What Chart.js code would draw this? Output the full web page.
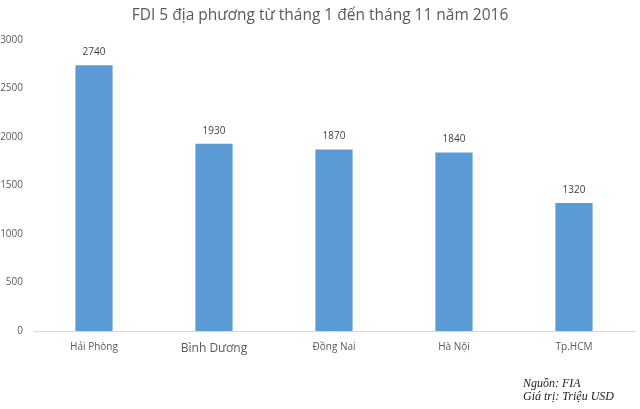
<!DOCTYPE html>
<html>
<head>
<meta charset="utf-8">
<script src="https://cdn.jsdelivr.net/npm/chart.js@4.4.0/dist/chart.umd.min.js"></script>
<style>
  html, body { margin: 0; padding: 0; background: #fff; }
  #wrap { width: 640px; height: 409px; position: relative; }
</style>
</head>
<body>
<div id="wrap"><canvas id="fdi-chart"></canvas></div>
<script>
const chartTitle = 'FDI 5 địa phương từ tháng 1 đến tháng 11 năm 2016';
const provinces = ['Hải Phòng', 'Bình Dương', 'Đồng Nai', 'Hà Nội', 'Tp.HCM'];
const fdiValues = [2740, 1930, 1870, 1840, 1320];
const yTicks = [0, 500, 1000, 1500, 2000, 2500, 3000];
const notes = ['Nguồn: FIA', 'Giá trị: Triệu USD'];

const textColor = '#595959';

// labels above bars + title + source notes
const extraText = {
    id: 'extraText',
    afterDatasetsDraw(chart) {
        const ctx = chart.ctx;
        const meta = chart.getDatasetMeta(0);
        ctx.save();
        ctx.fillStyle = '#404040';
        ctx.font = '10px "Open Sans"';
        ctx.textAlign = 'center';
        ctx.textBaseline = 'middle';
        meta.data.forEach((bar, i) => {
            ctx.fillText(String(fdiValues[i]), bar.x, bar.y - 13);
        });

        ctx.fillStyle = textColor;
        ctx.font = '15.5px "Open Sans"';
        ctx.fillText(chartTitle, 320, 16);

        ctx.fillStyle = '#222';
        ctx.font = 'italic 12px "Liberation Serif"';
        ctx.textAlign = 'left';
        ctx.textBaseline = 'alphabetic';
        ctx.fillText(notes[0], 523, 387);
        ctx.fillText(notes[1], 523, 400);
        ctx.restore();
    }
};

const ctx = document.getElementById('fdi-chart').getContext('2d');
new Chart(ctx, {
    type: 'bar',
    data: {
        labels: provinces,
        datasets: [{
            data: fdiValues,
            backgroundColor: '#5B9BD5',
            borderWidth: 0,
            barPercentage: 0.62,
            categoryPercentage: 0.5
        }]
    },
    options: {
        responsive: true,
        maintainAspectRatio: false,
        animation: false,
        layout: { padding: { top: 40, right: 6, left: 0, bottom: 0 } },
        scales: {
            y: {
                min: 0,
                max: 3000,
                afterBuildTicks: s => { s.ticks = yTicks.map(v => ({ value: v })); },
                afterFit: s => { s.width = 34; },
                grid: { display: false, drawTicks: false },
                border: { display: false },
                ticks: {
                    color: textColor,
                    padding: 11,
                    font: { family: '"Open Sans"', size: 10 },
                    callback: v => String(v)
                }
            },
            x: {
                afterFit: s => { s.height = 78; },
                grid: { display: false, drawTicks: false },
                border: { display: true, color: '#d9d9d9', width: 1 },
                ticks: {
                    color: textColor,
                    padding: 10,
                    font: ctx => ({ family: '"Open Sans"', size: ctx.index === 1 ? 12 : 10 })
                }
            }
        },
        plugins: {
            legend: { display: false },
            title: { display: false },
            tooltip: { enabled: false }
        }
    },
    plugins: [extraText]
});
</script>
</body>
</html>
